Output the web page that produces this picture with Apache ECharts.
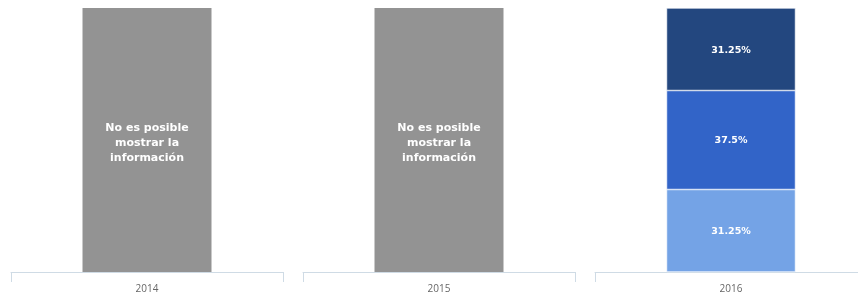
<!DOCTYPE html>
<html>
<head>
<meta charset="utf-8">
<script src="https://cdn.jsdelivr.net/npm/echarts@6/dist/echarts.min.js"></script>
<style>
  html, body { margin: 0; padding: 0; background: #fff; }
  #chart { width: 858px; height: 302px; }
</style>
</head>
<body>
<div id="chart"></div>
<script>
// years, one panel each
const years = ['2014', '2015', '2016'];
// years with no data shown as a full gray bar
const unavailable = [100, 100, null];
const unavailableText = 'No es posible\nmostrar la\ninformación';
// 2016 stacked shares, bottom to top
const shareLow = [null, null, 31.25];
const shareMid = [null, null, 37.5];
const shareHigh = [null, null, 31.25];

const panelLefts = [11, 303, 595];

const labelStyle = {
  show: true,
  position: 'inside',
  align: 'center',
  color: '#fff',
  fontFamily: 'DejaVu Sans',
  fontWeight: 'bold',
  fontSize: 9.5
};

const grid = [], xAxis = [], yAxis = [], series = [];
years.forEach((year, i) => {
  grid.push({ left: panelLefts[i], width: 272, top: 8, bottom: 30, outerBoundsMode: 'none' });
  xAxis.push({
    type: 'category',
    gridIndex: i,
    data: [year],
    axisLine: { lineStyle: { color: '#cfdbe5', width: 1 } },
    axisTick: { show: true, length: 10, lineStyle: { color: '#cfdbe5' } },
    axisLabel: { color: '#666', fontSize: 10, fontFamily: 'Open Sans', margin: 12 }
  });
  yAxis.push({ type: 'value', gridIndex: i, min: 0, max: 100, show: false });

  if (unavailable[i] != null) {
    series.push({
      type: 'bar', xAxisIndex: i, yAxisIndex: i,
      barWidth: 129,
      data: [unavailable[i]],
      itemStyle: { color: '#939393' },
      label: Object.assign({}, labelStyle, {
        formatter: unavailableText, fontSize: 11, lineHeight: 15, offset: [0, 3]
      })
    });
  }
  const parts = [
    [shareLow, '#74a3e6'],
    [shareMid, '#3264c8'],
    [shareHigh, '#23477f']
  ];
  parts.forEach(([arr, color]) => {
    if (arr[i] == null) return;
    series.push({
      type: 'bar', xAxisIndex: i, yAxisIndex: i,
      stack: 'share' + i,
      barWidth: 129,
      data: [arr[i]],
      itemStyle: { color: color, borderColor: '#ffffff', borderWidth: 0.6 },
      label: Object.assign({}, labelStyle, { formatter: p => p.value + '%', offset: [0, 1] })
    });
  });
});

const chart = echarts.init(document.getElementById('chart'));
chart.setOption({ animation: false, grid, xAxis, yAxis, series });
</script>
</body>
</html>
